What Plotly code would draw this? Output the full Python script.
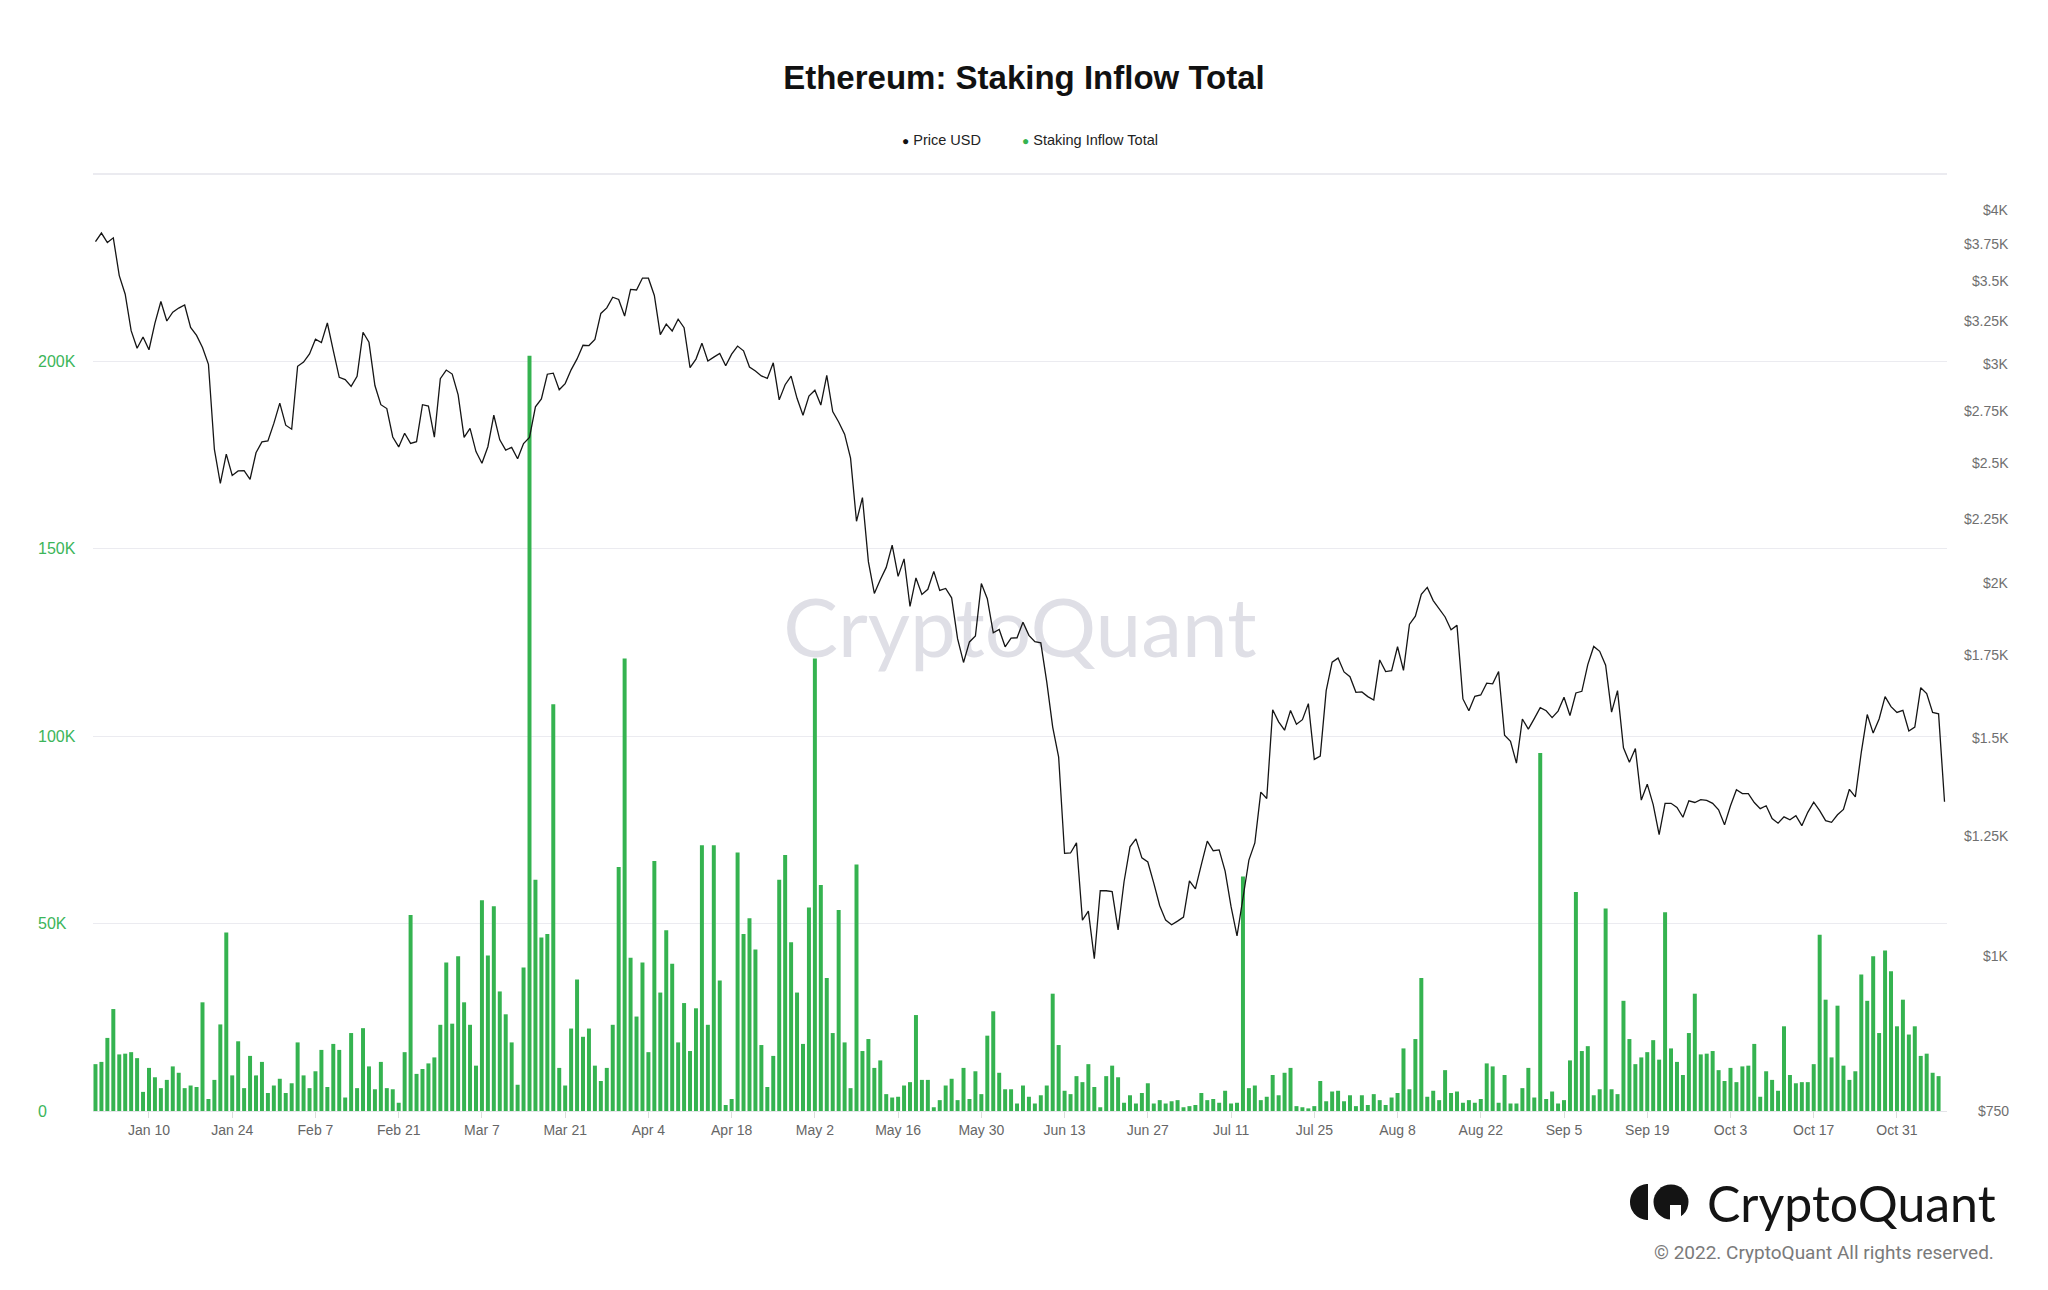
import pandas as pd
import numpy as np
import plotly.graph_objects as go

# ---------------- DATA ----------------
START_DATE = "2022-01-01"

# Daily ETH price (USD), Jan 1 - Nov 8 2022
price_jan = [3769, 3829, 3762, 3795, 3538, 3418, 3194, 3092, 3157, 3083,
             3239, 3372, 3252, 3306, 3331, 3350, 3213, 3166, 3096, 3001,
             2562, 2405, 2540, 2441, 2462, 2463, 2424, 2546, 2598, 2603, 2689]
price_feb = [2792, 2680, 2660, 2990, 3013, 3059, 3144, 3124, 3240, 3078,
             2929, 2917, 2880, 2935, 3185, 3126, 2885, 2784, 2764, 2622,
             2574, 2640, 2591, 2599, 2784, 2777, 2621, 2922]
price_mar = [2969, 2947, 2835, 2620, 2664, 2552, 2497, 2575, 2730, 2608,
             2559, 2572, 2518, 2590, 2620, 2773, 2814, 2946, 2952, 2862,
             2895, 2970, 3031, 3109, 3107, 3143, 3298, 3332, 3399, 3385, 3282]
price_apr = [3449, 3445, 3522, 3521, 3410, 3171, 3233, 3192, 3263, 3212,
             2982, 3030, 3121, 3019, 3041, 3062, 2993, 3058, 3104, 3077,
             2986, 2964, 2937, 2923, 3009, 2809, 2889, 2936, 2817, 2730]
price_may = [2829, 2860, 2782, 2940, 2749, 2696, 2636, 2521, 2242, 2343,
             2080, 1961, 2011, 2058, 2145, 2024, 2091, 1914, 2018, 1957,
             1976, 2043, 1972, 1979, 1945, 1803, 1725, 1792, 1812, 1997, 1942]
price_jun = [1823, 1834, 1776, 1805, 1806, 1859, 1814, 1793, 1789, 1664,
             1530, 1447, 1210, 1211, 1234, 1069, 1087, 995, 1129, 1129,
             1127, 1050, 1148, 1225, 1243, 1200, 1191, 1145, 1098, 1069]
price_jul = [1060, 1067, 1075, 1150, 1133, 1185, 1238, 1216, 1218, 1171,
             1096, 1038, 1111, 1195, 1234, 1356, 1340, 1580, 1545, 1521,
             1578, 1538, 1551, 1598, 1441, 1450, 1637, 1726, 1739, 1695, 1680]
price_aug = [1632, 1633, 1619, 1609, 1733, 1696, 1699, 1776, 1700, 1851,
             1880, 1958, 1983, 1935, 1904, 1877, 1833, 1848, 1612, 1577,
             1620, 1624, 1660, 1658, 1696, 1507, 1490, 1431, 1553, 1524, 1554]
price_sep = [1586, 1577, 1557, 1576, 1617, 1563, 1630, 1635, 1718, 1777,
             1761, 1716, 1573, 1637, 1472, 1433, 1470, 1336, 1376, 1325,
             1253, 1328, 1328, 1318, 1294, 1334, 1330, 1337, 1335, 1328]
price_oct = [1312, 1276, 1322, 1362, 1352, 1352, 1330, 1315, 1322, 1291,
             1280, 1295, 1288, 1298, 1274, 1306, 1331, 1310, 1286, 1282,
             1300, 1313, 1363, 1344, 1460, 1566, 1513, 1553, 1619, 1589, 1572]
price_nov = [1578, 1519, 1530, 1646, 1628, 1572, 1568, 1332]

# Daily staking inflow total (thousands of ETH), Jan 1 - Nov 8 2022
inflow_jan = [12.5, 13.1, 19.5, 27.2, 15.1, 15.3, 15.7, 14.1, 5.1, 11.5,
              9.0, 6.1, 8.3, 11.9, 10.2, 6.1, 6.8, 6.4, 29.0, 3.2,
              8.3, 23.1, 47.6, 9.5, 18.6, 6.1, 14.7, 9.5, 13.1, 4.8, 6.8]
inflow_feb = [8.6, 4.8, 7.4, 18.3, 9.5, 6.1, 10.6, 16.3, 6.4, 17.9,
              16.3, 3.6, 20.8, 6.1, 22.1, 11.9, 5.8, 13.1, 6.1, 5.8,
              2.2, 15.7, 52.3, 9.9, 11.2, 12.7, 14.3, 23.0]
inflow_mar = [39.6, 23.3, 41.3, 29.0, 23.0, 12.1, 56.2, 41.5, 54.6, 31.9,
              25.8, 18.3, 7.0, 38.3, 201.5, 61.7, 46.3, 47.2, 108.5, 11.5,
              6.8, 22.0, 35.1, 19.8, 22.0, 12.1, 8.0, 11.5, 23.0, 65.1, 120.7]
inflow_apr = [40.9, 25.2, 39.6, 15.7, 66.7, 31.6, 48.2, 39.3, 18.3, 28.8,
              16.0, 27.4, 70.9, 23.0, 70.9, 34.8, 1.6, 3.2, 69.0, 47.2,
              51.4, 43.1, 17.6, 6.4, 14.7, 61.7, 68.3, 45.0, 31.6, 17.9]
inflow_may = [54.3, 120.7, 60.3, 35.5, 20.8, 53.6, 18.3, 6.1, 65.8, 16.0,
              19.2, 11.5, 13.5, 4.5, 3.6, 3.8, 6.8, 7.7, 25.6, 8.3,
              8.3, 1.0, 2.9, 6.8, 8.6, 2.9, 11.5, 3.2, 10.6, 4.5, 20.1]
inflow_jun = [26.6, 10.2, 5.8, 5.8, 2.0, 6.8, 3.8, 2.0, 4.2, 6.8,
              31.3, 17.6, 5.4, 4.5, 9.3, 7.7, 12.5, 6.4, 1.0, 9.3,
              12.1, 9.0, 2.2, 4.2, 2.0, 4.8, 7.4, 2.0, 2.9, 2.0]
inflow_jul = [2.6, 2.9, 1.0, 1.3, 1.6, 4.8, 2.9, 3.2, 2.2, 5.4,
              2.0, 2.2, 62.6, 6.1, 6.8, 2.9, 3.8, 9.6, 4.2, 10.2,
              11.5, 1.3, 1.0, 0.7, 1.3, 8.0, 2.6, 5.2, 5.4, 2.6, 4.2]
inflow_aug = [1.3, 4.2, 1.6, 4.5, 2.9, 1.6, 3.6, 4.8, 16.7, 5.8,
              19.2, 35.5, 3.8, 5.4, 2.9, 10.9, 4.8, 5.2, 2.2, 2.9,
              2.2, 3.2, 12.7, 11.9, 2.2, 9.6, 2.0, 2.0, 6.1, 11.5, 3.6]
inflow_sep = [95.5, 3.2, 5.2, 2.0, 2.9, 13.5, 58.4, 16.0, 17.3, 4.2,
              5.8, 54.0, 5.8, 4.5, 29.4, 19.2, 12.5, 14.3, 15.7, 18.9,
              13.7, 53.0, 16.7, 13.1, 9.6, 20.8, 31.3, 15.1, 15.3, 16.0]
inflow_oct = [10.9, 8.0, 11.5, 7.7, 11.9, 12.1, 17.9, 3.8, 10.6, 8.3,
              5.4, 22.6, 9.6, 7.4, 7.7, 7.7, 12.5, 47.0, 29.7, 14.3,
              28.1, 12.1, 8.3, 10.6, 36.4, 29.4, 41.3, 20.8, 42.8, 37.3, 22.6]
inflow_nov = [29.7, 20.4, 22.6, 14.7, 15.3, 10.2, 9.3, None]

x_tick_dates = ["2022-01-10", "2022-01-24", "2022-02-07", "2022-02-21", "2022-03-07",
                "2022-03-21", "2022-04-04", "2022-04-18", "2022-05-02", "2022-05-16",
                "2022-05-30", "2022-06-13", "2022-06-27", "2022-07-11", "2022-07-25",
                "2022-08-08", "2022-08-22", "2022-09-05", "2022-09-19", "2022-10-03",
                "2022-10-17", "2022-10-31"]
x_tick_labels = ["Jan 10", "Jan 24", "Feb 7", "Feb 21", "Mar 7", "Mar 21", "Apr 4",
                 "Apr 18", "May 2", "May 16", "May 30", "Jun 13", "Jun 27", "Jul 11",
                 "Jul 25", "Aug 8", "Aug 22", "Sep 5", "Sep 19", "Oct 3", "Oct 17", "Oct 31"]
left_ticks = [0, 50000, 100000, 150000, 200000]
left_labels = ["0", "50K", "100K", "150K", "200K"]
right_ticks = [750, 1000, 1250, 1500, 1750, 2000, 2250, 2500, 2750, 3000, 3250, 3500, 3750, 4000]
right_labels = ["$750", "$1K", "$1.25K", "$1.5K", "$1.75K", "$2K", "$2.25K", "$2.5K",
                "$2.75K", "$3K", "$3.25K", "$3.5K", "$3.75K", "$4K"]

price = (price_jan + price_feb + price_mar + price_apr + price_may + price_jun +
         price_jul + price_aug + price_sep + price_oct + price_nov)
inflow_k = (inflow_jan + inflow_feb + inflow_mar + inflow_apr + inflow_may + inflow_jun +
            inflow_jul + inflow_aug + inflow_sep + inflow_oct + inflow_nov)
inflow = [None if v is None else v * 1000 for v in inflow_k]
dates = pd.date_range(START_DATE, periods=len(price), freq="D")
n = min(len(dates), len(inflow))

# ---------------- STYLE ----------------
W, H = 2048, 1290
ML, MR, MT, MB = 93, 101, 174, 179
PW, PH = W - ML - MR, H - MT - MB
GREEN = "#35b350"
LABEL_GREEN = "#3cb55a"
GRID = "#ebebf0"
FONT = "Liberation Sans, Arial, sans-serif"
LOGO_FONT = "Lato, Noto Sans, sans-serif"

X_RANGE = ["2021-12-31 14:00", "2022-11-08 10:00"]
Y_RANGE = [0, 250000]
Y2_RANGE = [np.log10(750), np.log10(750) + PH / 1240.0]


def px_x(px):
    return (px - ML) / PW


def px_y(py):
    return (H - MB - py) / PH


fig = go.Figure()

# watermark (inside plot, under the price line)
x0r, x1r = pd.Timestamp(X_RANGE[0]), pd.Timestamp(X_RANGE[1])
wm_x = x0r + (x1r - x0r) * px_x(1020)
wm_y = Y_RANGE[0] + (Y_RANGE[1] - Y_RANGE[0]) * px_y(636)
fig.add_trace(go.Scatter(x=[wm_x], y=[wm_y], mode="text", text=["CryptoQuant"],
                         textfont=dict(family=LOGO_FONT, size=82, color="#dfdfe6"),
                         hoverinfo="skip", showlegend=False))

fig.add_trace(go.Bar(x=dates[:n], y=inflow[:n], name="Staking Inflow Total",
                     marker=dict(color=GREEN, line=dict(width=0)), showlegend=False))
fig.add_trace(go.Scatter(x=dates, y=price, name="Price USD", yaxis="y2", mode="lines",
                         line=dict(color="#151515", width=1.3), showlegend=False))

annotations = []
# left axis labels
for v, t in zip(left_ticks, left_labels):
    annotations.append(dict(xref="paper", yref="y", x=px_x(36), y=v, text=t, showarrow=False,
                            xanchor="left", yanchor="middle",
                            font=dict(family=FONT, size=16, color=LABEL_GREEN)))
# right axis labels
for v, t in zip(right_ticks, right_labels):
    annotations.append(dict(xref="paper", yref="y2", x=px_x(2011), y=np.log10(v), text=t,
                            showarrow=False, xanchor="right", yanchor="middle",
                            font=dict(family=FONT, size=14, color="#6f6f6f")))
# legend
annotations.append(dict(xref="paper", yref="paper", x=px_x(900), y=px_y(140),
                        text="<span style='font-size:12px;color:#111'>●</span> Price USD",
                        showarrow=False, xanchor="left", yanchor="middle",
                        font=dict(family=FONT, size=14.5, color="#222")))
annotations.append(dict(xref="paper", yref="paper", x=px_x(1020), y=px_y(140),
                        text="<span style='font-size:12px;color:%s'>●</span> Staking Inflow Total" % GREEN,
                        showarrow=False, xanchor="left", yanchor="middle",
                        font=dict(family=FONT, size=14.5, color="#222")))
# logo + copyright
annotations.append(dict(xref="paper", yref="paper", x=px_x(1998), y=px_y(1203),
                        text="CryptoQuant", showarrow=False, xanchor="right", yanchor="middle",
                        font=dict(family=LOGO_FONT, size=50, color="#141414")))
annotations.append(dict(xref="paper", yref="paper", x=px_x(1996), y=px_y(1252),
                        text="© 2022. CryptoQuant All rights reserved.", showarrow=False,
                        xanchor="right", yanchor="middle",
                        font=dict(family="Roboto, sans-serif", size=19, color="#7a7a7a")))

shapes = []
# top border gridline
shapes.append(dict(type="line", xref="paper", yref="paper", x0=0, x1=1, y0=1, y1=1,
                   line=dict(color=GRID, width=2)))
# logo icon: left half disk
cx, cy, r = 1648, 1202, 18
pts = []
for th in np.linspace(np.pi / 2, 3 * np.pi / 2, 40):
    pts.append((px_x(cx + r * np.cos(th)), px_y(cy - r * np.sin(th))))
path = "M " + " L ".join("%.5f,%.5f" % p for p in pts) + " Z"
shapes.append(dict(type="path", xref="paper", yref="paper", path=path,
                   fillcolor="#141414", line=dict(width=0)))
# logo icon: disk with notch
cx2, cy2, r2 = 1671, 1202, 17.5
shapes.append(dict(type="circle", xref="paper", yref="paper",
                   x0=px_x(cx2 - r2), x1=px_x(cx2 + r2), y0=px_y(cy2 + r2), y1=px_y(cy2 - r2),
                   fillcolor="#141414", line=dict(width=0)))
shapes.append(dict(type="rect", xref="paper", yref="paper",
                   x0=px_x(1670), x1=px_x(1681), y0=px_y(1222), y1=px_y(1205),
                   fillcolor="white", line=dict(width=0)))

fig.update_layout(
    width=W, height=H,
    margin=dict(l=ML, r=MR, t=MT, b=MB),
    paper_bgcolor="white", plot_bgcolor="white",
    title=dict(text="<b>Ethereum: Staking Inflow Total</b>", x=0.5, xref="container",
               xanchor="center", y=1 - 77 / H, yref="container", yanchor="middle",
               font=dict(family=FONT, size=33, color="#111")),
    showlegend=False,
    bargap=0.33,
    xaxis=dict(type="date", range=X_RANGE, tickvals=x_tick_dates, ticktext=x_tick_labels,
               showgrid=False, zeroline=False, showline=True, linecolor="#e3e3e8", linewidth=1,
               ticks="outside", ticklen=6, tickcolor="#dcdcdc", tickwidth=1,
               tickfont=dict(family=FONT, size=14, color="#666")),
    yaxis=dict(range=Y_RANGE, tickvals=left_ticks + [250000], showticklabels=False,
               showgrid=True, gridcolor=GRID, gridwidth=1, zeroline=False, showline=False,
               ticks=""),
    yaxis2=dict(type="log", range=Y2_RANGE, overlaying="y", side="right",
                showgrid=False, showticklabels=False, zeroline=False, showline=False, ticks=""),
    annotations=annotations,
    shapes=shapes,
    hovermode=False,
)

fig.write_html("out.html")
